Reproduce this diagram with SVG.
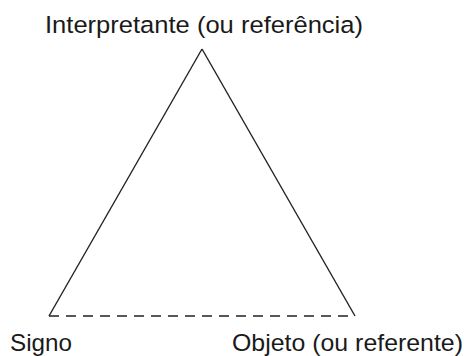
<svg xmlns="http://www.w3.org/2000/svg" width="464" height="356" viewBox="0 0 464 356">
<style>
text{font-family:"Liberation Sans",Arial,sans-serif;font-size:24.5px;fill:#1a1a1a}
.solid{stroke:#222;stroke-width:1.4;fill:none}
.dash{stroke:#222;stroke-width:1.4;fill:none;stroke-dasharray:10 7}
</style>
<rect width="464" height="356" fill="#fff"/>
<g id="connectors">
<line class="solid" x1="202" y1="49" x2="49" y2="316"/>
<line class="solid" x1="202" y1="49" x2="355" y2="316"/>
<line class="dash" x1="49" y1="316" x2="355" y2="316"/>
</g>
<g id="interpretante"><text x="45" y="33" textLength="318" lengthAdjust="spacingAndGlyphs">Interpretante (ou referência)</text></g>
<g id="signo"><text x="10" y="351" textLength="62" lengthAdjust="spacingAndGlyphs">Signo</text></g>
<g id="objeto"><text x="232" y="351" textLength="231" lengthAdjust="spacingAndGlyphs">Objeto (ou referente)</text></g>
</svg>
